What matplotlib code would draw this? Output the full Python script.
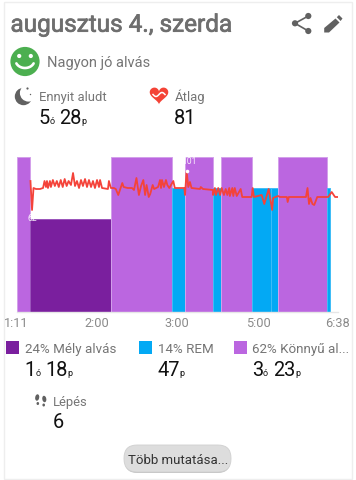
import matplotlib
matplotlib.use("Agg")
import numpy as np
import matplotlib.pyplot as plt
import matplotlib.patheffects as pe
from matplotlib.patches import Circle, Rectangle, Polygon, FancyBboxPatch, Ellipse

plt.rcParams['font.family'] = ['Roboto', 'DejaVu Sans']

W, H = 356, 480

# ---- data ----
stage_names = ["Könnyű", "Mély", "Könnyű", "REM", "Könnyű", "REM", "Könnyű", "REM", "REM", "Könnyű", "REM"]
stage_start = [0, 14, 96, 158, 171, 200, 208, 239.5, 258.5, 266, 316]
stage_end = [14, 96, 158, 171, 200, 208, 239.5, 258.5, 266, 316, 319]
stage_level = {"Mély": 3, "REM": 4, "Könnyű": 5}
stage_color = {"Mély": "#7a1f9e", "REM": "#03a9f4", "Könnyű": "#bb66e0"}
stage_edge = {"Mély": "#9a55bb", "REM": "#3fbdf6", "Könnyű": "#d3a0ea"}

hr_min = [14.2, 15.8, 17.3, 19.8, 23.9, 27, 28.5, 30, 31, 32, 34, 35, 37, 39, 41, 43, 45, 47, 49, 51, 53, 55.4,
          57.5, 59.5, 61.5, 63.6, 65.6, 67.6, 69.7, 71.7, 73.7, 75.8, 77.8, 79.8, 81.9, 83.9, 85, 87, 93, 94, 96,
          99, 101, 103.5, 107.6, 109, 113, 117.5, 119.5, 122, 124.5, 126.7, 129, 130.8, 132.3, 134.5, 136, 138.5,
          140, 144, 146, 147, 148, 150, 152, 153.4, 155.4, 159.5, 161, 166, 170.7, 171.4, 173, 174.7, 176.4, 178,
          186.6, 187.4, 189.7, 199.8, 200, 201.8, 202.8, 205.2, 207, 208.7, 211, 212.8, 214.4, 216.4, 217, 219.5,
          220.5, 222, 224, 228, 229.6, 233.4, 239.2, 240.2, 241.5, 249.4, 252, 256.5, 260, 261, 266, 268, 275,
          275.8, 277, 288.3, 294.4, 296, 297.5, 299, 301, 302.8, 305.9, 313.7, 317, 320.6, 324, 327]
hr_bpm = [91, 62, 84, 83, 83, 84, 91, 85, 91, 84, 91, 85, 92, 86, 91, 85, 92, 85, 93, 86, 91, 87,
          99, 86, 91, 84, 92, 86, 93, 85, 92, 85, 91, 84, 92, 85, 92, 84, 83, 91, 84,
          84, 83, 77, 89, 85, 84, 84, 82, 94, 77, 86, 92, 77, 87, 75, 78, 87,
          83, 85, 92, 84, 92, 85, 92, 87, 84, 91, 84, 84, 84, 77, 101, 85, 90, 84,
          83, 85, 83, 82, 77, 84, 77, 84, 77, 84, 77, 83, 77, 84, 76, 84,
          76, 84, 76, 83, 75, 75, 75, 84, 75, 77, 68, 83, 62, 74, 76, 75, 75,
          70, 75, 75, 75, 84, 68, 74, 68, 67, 75, 75, 75, 80, 75, 75]

tick_pos = [0, 82, 163, 245.6, 327]
tick_labels = ["1:11", "2:00", "3:00", "5:00", "6:38"]
hr_min_label, hr_max_label = "62", "101"

GREY = "#757575"
DARK = "#616161"

fig = plt.figure(figsize=(W / 100, H / 100), dpi=100, facecolor="white")

# ---- UI layer in pixel coordinates ----
ui = fig.add_axes([0, 0, 1, 1], zorder=0)
ui.set_xlim(0, W)
ui.set_ylim(H, 0)
ui.axis("off")

ui.add_patch(Rectangle((4, 2), 348, 477, fc="white", ec="#eeeeee", lw=1.0))


def txt(x, y, s, size_px, color=GREY, **kw):
    return ui.text(x, y, s, fontsize=size_px * 0.72, color=color, va="baseline", ha=kw.pop("ha", "left"), **kw)


title = txt(10.5, 31.7, "augusztus 4., szerda", 24.3, "#6e6e6e")
title.set_path_effects([pe.withStroke(linewidth=0.5, foreground="#6e6e6e")])
txt(47, 67.5, "Nagyon jó alvás", 14.6)
txt(38.8, 101, "Ennyit aludt", 13)
txt(174.3, 101, "Átlag", 13)
txt(25, 353.3, "24% Mély alvás", 13.4)
txt(157.7, 353.3, "14% REM", 13.4)
txt(252, 353.3, "62% Könnyű al...", 13.4)
txt(52.5, 406, "Lépés", 13)

BIG = 20
SMALL = 9
for x, s, size in [(38.5, "5", BIG), (49.6, "ó", SMALL), (59.5, "28", BIG), (81.6, "p", SMALL),
                   (174, "81", BIG)]:
    txt(x, 123.5, s, size, "#111111")
for x, s, size in [(24.5, "1", BIG), (35.3, "ó", SMALL), (45.5, "18", BIG), (67.6, "p", SMALL),
                   (157, "47", BIG), (179, "p", SMALL),
                   (252, "3", BIG), (263, "ó", SMALL), (273, "23", BIG), (295.5, "p", SMALL)]:
    txt(x, 375.7, s, size, "#111111")
txt(52.3, 427.7, "6", BIG, "#111111")

for x, c in [(6, "Mély"), (139, "REM"), (233.5, "Könnyű")]:
    ui.add_patch(Rectangle((x, 341), 13, 13, fc=stage_color[c], ec="none"))

# button
ui.add_patch(FancyBboxPatch((125, 447), 105, 26, boxstyle="round,pad=0,rounding_size=12", fc="#c4c4c4", ec="none"))
ui.add_patch(FancyBboxPatch((124, 445), 107, 27, boxstyle="round,pad=0,rounding_size=13", fc="#dddddd", ec="#cfcfcf", lw=0.6))
txt(178, 464, "Több mutatása...", 13.2, "#333333", ha="center")

# share icon
for a, b in [((308.3, 16), (295, 23.3)), ((295, 23.3), (308.3, 31))]:
    ui.plot(*zip(a, b), color=DARK, lw=1.2)
for c in [(308.3, 16), (295, 23.3), (308.3, 31)]:
    ui.add_patch(Circle(c, 3.1, fc=DARK, ec="none"))
# pencil icon
ui.add_patch(Polygon([(324.2, 32.5), (324.2, 28), (335.5, 18.5), (339.5, 22.5), (329, 32.5)], fc=DARK, ec="none"))
ui.add_patch(Polygon([(336.8, 17.2), (339, 15), (342.5, 18.5), (340.6, 21)], fc=DARK, ec="none"))

# smiley
ui.add_patch(Circle((25, 61.5), 14.6, fc="#4caf50", ec="none"))
for ex in (19.2, 30.8):
    ui.add_patch(Circle((ex, 56), 2.1, fc="white", ec="none"))
t = np.linspace(np.radians(25), np.radians(155), 30)
ui.plot(25 + 9.5 * np.cos(t), 60 + 8 * np.sin(t), color="white", lw=1.9, solid_capstyle="round")

# moon
ui.add_patch(Circle((23.5, 96.5), 8.7, fc=DARK, ec="none"))
ui.add_patch(Circle((28.5, 93), 8.6, fc="white", ec="none"))
ui.add_patch(Circle((27.5, 88.5), 1.1, fc=DARK, ec="none"))
ui.add_patch(Circle((30.5, 94.5), 0.7, fc=DARK, ec="none"))

# heart
t = np.linspace(0, 2 * np.pi, 100)
hx = 16 * np.sin(t) ** 3
hy = 13 * np.cos(t) - 5 * np.cos(2 * t) - 2 * np.cos(3 * t) - np.cos(4 * t)
ui.add_patch(Polygon(np.c_[159 + hx * 0.58, 94.5 - hy * 0.58], fc="#f44336", ec="none"))
s = np.linspace(-1, 1, 30)
ui.plot(159 + 6 * s, 94.5 - 2 * np.sin(s * np.pi), color="white", lw=1.1)

# feet
for cx, cy, ang in [(37.2, 397.5, 10), (44.3, 399, -10)]:
    ui.add_patch(Ellipse((cx, cy), 4, 6.5, angle=ang, fc=DARK, ec="none"))
    ui.add_patch(Ellipse((cx + (0.6 if ang > 0 else -0.6), cy + 6), 2.6, 3, fc=DARK, ec="none"))

# ---- chart ----
L, R, T, B = 16.5, 338, 157.3, 311.7
ax = fig.add_axes([L / W, 1 - B / H, (R - L) / W, (B - T) / H], zorder=1)
ax.patch.set_alpha(0)
ax.set_xlim(0, 327)
ax.set_ylim(0, 5)
for name, a, b in zip(stage_names, stage_start, stage_end):
    ax.bar(a, stage_level[name], width=b - a, align="edge", color=stage_color[name],
           edgecolor=stage_edge[name], linewidth=0.7)
for sp in ("top", "left", "right"):
    ax.spines[sp].set_visible(False)
ax.spines["bottom"].set_color("#e6e6e6")
ax.spines["bottom"].set_linewidth(1.0)
ax.set_yticks([])
ax.set_xticks(tick_pos)
ax.set_xticklabels(tick_labels, fontsize=9.2, color="#8a8a8a")
ax.tick_params(axis="x", length=0, pad=3.6)

hr = ax.twinx()
hr.set_ylim(-39.7, 114.7)
hr.set_yticks([])
for sp in hr.spines.values():
    sp.set_visible(False)
hr.plot(hr_min, hr_bpm, color="#f4433a", lw=1.3, solid_joinstyle="round")
hr.plot([173], [101], "o", ms=2.6, mfc="white", mec="none")
hr.text(16, 53, hr_min_label, color="white", fontsize=6.2, ha="center", va="center", alpha=0.9)
hr.text(175.5, 110, hr_max_label, color="white", fontsize=6.2, ha="center", va="center", alpha=0.9)

fig.savefig("out.png", dpi=100)
